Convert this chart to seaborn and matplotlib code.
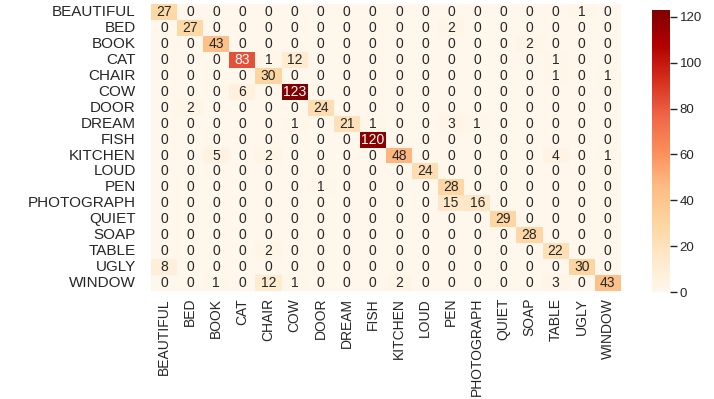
import numpy as np
import pandas as pd
import matplotlib
matplotlib.use("Agg")
import matplotlib.pyplot as plt
import seaborn as sns

labels = ["BEAUTIFUL", "BED", "BOOK", "CAT", "CHAIR", "COW", "DOOR", "DREAM",
          "FISH", "KITCHEN", "LOUD", "PEN", "PHOTOGRAPH", "QUIET", "SOAP",
          "TABLE", "UGLY", "WINDOW"]

# confusion counts: rows = true class, columns = predicted class
row_beautiful  = [27, 0, 0, 0, 0, 0, 0, 0, 0, 0, 0, 0, 0, 0, 0, 0, 1, 0]
row_bed        = [0, 27, 0, 0, 0, 0, 0, 0, 0, 0, 0, 2, 0, 0, 0, 0, 0, 0]
row_book       = [0, 0, 43, 0, 0, 0, 0, 0, 0, 0, 0, 0, 0, 0, 2, 0, 0, 0]
row_cat        = [0, 0, 0, 83, 1, 12, 0, 0, 0, 0, 0, 0, 0, 0, 0, 1, 0, 0]
row_chair      = [0, 0, 0, 0, 30, 0, 0, 0, 0, 0, 0, 0, 0, 0, 0, 1, 0, 1]
row_cow        = [0, 0, 0, 6, 0, 123, 0, 0, 0, 0, 0, 0, 0, 0, 0, 0, 0, 0]
row_door       = [0, 2, 0, 0, 0, 0, 24, 0, 0, 0, 0, 0, 0, 0, 0, 0, 0, 0]
row_dream      = [0, 0, 0, 0, 0, 1, 0, 21, 1, 0, 0, 3, 1, 0, 0, 0, 0, 0]
row_fish       = [0, 0, 0, 0, 0, 0, 0, 0, 120, 0, 0, 0, 0, 0, 0, 0, 0, 0]
row_kitchen    = [0, 0, 5, 0, 2, 0, 0, 0, 0, 48, 0, 0, 0, 0, 0, 4, 0, 1]
row_loud       = [0, 0, 0, 0, 0, 0, 0, 0, 0, 0, 24, 0, 0, 0, 0, 0, 0, 0]
row_pen        = [0, 0, 0, 0, 0, 0, 1, 0, 0, 0, 0, 28, 0, 0, 0, 0, 0, 0]
row_photograph = [0, 0, 0, 0, 0, 0, 0, 0, 0, 0, 0, 15, 16, 0, 0, 0, 0, 0]
row_quiet      = [0, 0, 0, 0, 0, 0, 0, 0, 0, 0, 0, 0, 0, 29, 0, 0, 0, 0]
row_soap       = [0, 0, 0, 0, 0, 0, 0, 0, 0, 0, 0, 0, 0, 0, 28, 0, 0, 0]
row_table      = [0, 0, 0, 0, 2, 0, 0, 0, 0, 0, 0, 0, 0, 0, 0, 22, 0, 0]
row_ugly       = [8, 0, 0, 0, 0, 0, 0, 0, 0, 0, 0, 0, 0, 0, 0, 0, 30, 0]
row_window     = [0, 0, 1, 0, 12, 1, 0, 0, 0, 2, 0, 0, 0, 0, 0, 3, 0, 43]

cbar_ticks = [0, 20, 40, 60, 80, 100, 120]

rows = [row_beautiful, row_bed, row_book, row_cat, row_chair, row_cow,
        row_door, row_dream, row_fish, row_kitchen, row_loud, row_pen,
        row_photograph, row_quiet, row_soap, row_table, row_ugly, row_window]
cm = pd.DataFrame(np.array(rows), index=labels, columns=labels)

sns.set_theme(style="white")
plt.rcParams["font.family"] = ["Liberation Sans", "DejaVu Sans"]

fig = plt.figure(figsize=(7.14, 3.99), dpi=100)
ax = fig.add_axes([0.2115, 0.2707, 0.658, 0.719])
cax = fig.add_axes([0.913, 0.268, 0.0252, 0.707])

sns.heatmap(cm, ax=ax, cbar_ax=cax, cmap="OrRd", annot=True, fmt="d",
            xticklabels=labels, yticklabels=labels,
            annot_kws={"fontsize": 10}, cbar_kws={"ticks": cbar_ticks})

ax.tick_params(axis="y", length=0, labelsize=11, pad=11)
ax.tick_params(axis="x", length=0, labelsize=10, pad=5)
plt.setp(ax.get_xticklabels(), rotation=90)
plt.setp(ax.get_yticklabels(), rotation=0)
cax.tick_params(axis="y", length=5, width=1, labelsize=9.5, pad=2)
for s in cax.spines.values():
    s.set_visible(False)

fig.savefig("out.png", dpi=100)
